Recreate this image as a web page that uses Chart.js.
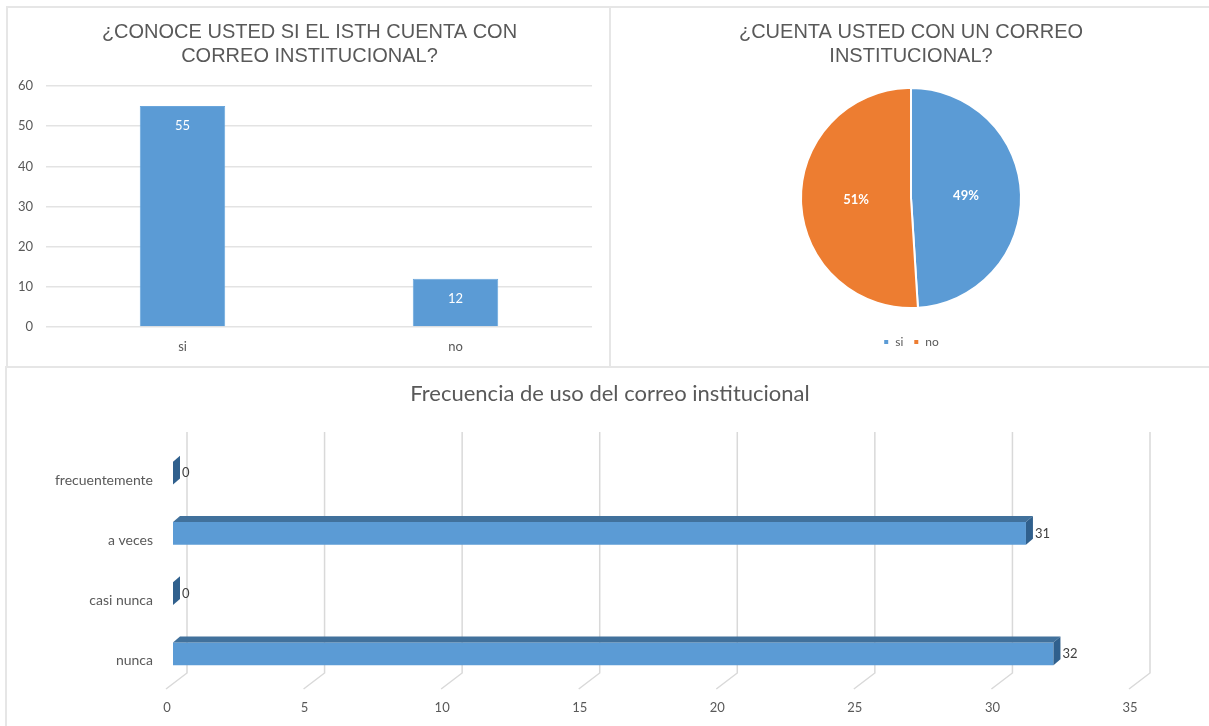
<!DOCTYPE html>
<html>
<head>
<meta charset="utf-8">
<script src="https://cdn.jsdelivr.net/npm/chart.js@4/dist/chart.umd.min.js"></script>
<style>
  body { margin: 0; background: #fff; }
  #page { position: relative; width: 1209px; height: 726px; overflow: hidden; }
  .frame { position: absolute; border: 2px solid #e6e6e6; box-sizing: border-box; }
  canvas { position: absolute; }
</style>
</head>
<body>
<div id="page">
  <div class="frame" style="left:6px;top:6px;width:605px;height:362px;"></div>
  <div class="frame" style="left:609px;top:6px;width:610px;height:362px;"></div>
  <div class="frame" style="left:5px;top:366px;width:1214px;height:370px;"></div>
  <div style="position:absolute;left:8px;top:8px;width:603px;height:358px;"><canvas id="c-conoce"></canvas></div>
  <div style="position:absolute;left:610px;top:8px;width:599px;height:358px;"><canvas id="c-cuenta"></canvas></div>
  <div style="position:absolute;left:0px;top:370px;width:1220px;height:356px;"><canvas id="c-frecuencia"></canvas></div>
</div>
<script>
// ---- data ----
const conoceLabels = ['si', 'no'];
const conoceValues = [55, 12];
const conoceTicks = [0, 10, 20, 30, 40, 50, 60];

const cuentaLabels = ['si', 'no'];
const cuentaValues = [49, 51];

const frecLabels = ['frecuentemente', 'a veces', 'casi nunca', 'nunca'];
const frecValues = [0, 31, 0, 32];
const frecTicks = [0, 5, 10, 15, 20, 25, 30, 35];

const GREY = '#595959';
const BLUE = '#5b9bd5';
const ORANGE = '#ed7d31';
const calibri = "Lato, 'Open Sans', sans-serif";
const arial = "'Liberation Sans', Arial, sans-serif";

Chart.defaults.animation = false;
Chart.defaults.responsive = true;
Chart.defaults.maintainAspectRatio = false;
Chart.defaults.color = GREY;
Chart.defaults.font.family = calibri;

const useTicks = list => scale => { scale.ticks = list.map(v => ({ value: v })); };
// empty axis on the right, only to keep the plot narrower than the title box
const spacerAxis = w => ({
  type: 'linear', position: 'right', display: true,
  grid: { display: false }, border: { display: false }, ticks: { display: false },
  afterFit: s => { s.width = w; }
});

// ---- chart 1: vertical bars ----
const barLabelsInside = {
  id: 'barLabelsInside',
  afterDatasetsDraw(chart) {
    const ctx = chart.ctx;
    const meta = chart.getDatasetMeta(0);
    ctx.save();
    ctx.fillStyle = '#ffffff';
    ctx.font = '13px ' + calibri;
    ctx.textAlign = 'center';
    ctx.textBaseline = 'middle';
    meta.data.forEach((bar, i) => {
      ctx.fillText(String(chart.data.datasets[0].data[i]), bar.x, bar.y + 20);
    });
    ctx.restore();
  }
};

new Chart(document.getElementById('c-conoce'), {
  type: 'bar',
  data: {
    labels: conoceLabels,
    datasets: [{ data: conoceValues, backgroundColor: BLUE, borderColor: '#6aa6dc', borderWidth: 1,
      barPercentage: 0.313, categoryPercentage: 1 }]
  },
  options: {
    plugins: {
      legend: { display: false },
      tooltip: { enabled: false },
      title: {
        display: true,
        text: ['¿CONOCE USTED SI EL ISTH CUENTA CON', 'CORREO INSTITUCIONAL?'],
        color: GREY,
        font: { family: arial, size: 20, weight: 'normal', lineHeight: 1.2 },
        padding: { top: 12, bottom: 18 }
      }
    },
    scales: {
      x: {
        grid: { display: false }, border: { display: false },
        ticks: { font: { size: 13 }, padding: 4 },
        afterFit: s => { s.height = 39; }
      },
      y: {
        min: 0, max: 60,
        afterBuildTicks: useTicks(conoceTicks),
        grid: { color: '#e3e3e3', lineWidth: 1.5, drawTicks: false },
        border: { display: false },
        ticks: { font: { size: 13 }, padding: 13 },
        afterFit: s => { s.width = 38; }
      },
      yRight: spacerAxis(19)
    }
  },
  plugins: [barLabelsInside]
});

// ---- chart 2: pie ----
const pieLabels = {
  id: 'pieLabels',
  afterDatasetsDraw(chart) {
    const ctx = chart.ctx;
    const meta = chart.getDatasetMeta(0);
    ctx.save();
    ctx.fillStyle = '#ffffff';
    ctx.font = 'bold 13px ' + calibri;
    ctx.textAlign = 'center';
    ctx.textBaseline = 'middle';
    meta.data.forEach((arc, i) => {
      const p = arc.tooltipPosition();
      ctx.fillText(chart.data.datasets[0].data[i] + '%', p.x, p.y);
    });
    ctx.restore();
  }
};

new Chart(document.getElementById('c-cuenta'), {
  type: 'pie',
  data: {
    labels: cuentaLabels,
    datasets: [{ data: cuentaValues, backgroundColor: [BLUE, ORANGE], borderColor: '#ffffff', borderWidth: 2, radius: 110 }]
  },
  options: {
    layout: { padding: { left: 3, bottom: 8 } },
    plugins: {
      tooltip: { enabled: false },
      title: {
        display: true,
        text: ['¿CUENTA USTED CON UN CORREO', 'INSTITUCIONAL?'],
        color: GREY,
        font: { family: arial, size: 20, weight: 'normal', lineHeight: 1.2 },
        padding: { top: 12, bottom: 2 }
      },
      legend: {
        position: 'bottom',
        labels: { boxWidth: 6, boxHeight: 6, padding: 10, color: GREY, font: { size: 12 } }
      }
    }
  },
  plugins: [pieLabels]
});

// ---- chart 3: horizontal bars drawn with depth ----
const DX = 7, DY = 6;
const backGrid = {
  id: 'backGrid',
  beforeDatasetsDraw(chart) {
    const { ctx, chartArea } = chart;
    const xs = chart.scales.x;
    ctx.save();
    ctx.strokeStyle = '#d9d9d9';
    ctx.lineWidth = 1.5;
    xs.ticks.forEach(t => {
      const px = xs.getPixelForValue(t.value);
      ctx.beginPath();
      ctx.moveTo(px + 14, chartArea.top - 11);
      ctx.lineTo(px + 14, chartArea.bottom - 11);
      ctx.lineTo(px - 7, chartArea.bottom + 5);
      ctx.stroke();
    });
    ctx.restore();
  }
};

const barDepth = {
  id: 'barDepth',
  afterDatasetsDraw(chart) {
    const ctx = chart.ctx;
    const meta = chart.getDatasetMeta(0);
    ctx.save();
    meta.data.forEach((bar, i) => {
      const { x, y, base, height } = bar.getProps(['x', 'y', 'base', 'height'], true);
      const top = y - height / 2, bot = y + height / 2;
      // top face
      if (x > base) {
        ctx.fillStyle = '#41719c';
        ctx.beginPath();
        ctx.moveTo(base, top);
        ctx.lineTo(base + DX, top - DY);
        ctx.lineTo(x + DX, top - DY);
        ctx.lineTo(x, top);
        ctx.closePath();
        ctx.fill();
      }
      // side face
      ctx.fillStyle = '#30608d';
      ctx.beginPath();
      ctx.moveTo(x, top);
      ctx.lineTo(x + DX, top - DY);
      ctx.lineTo(x + DX, bot - DY);
      ctx.lineTo(x, bot);
      ctx.closePath();
      ctx.fill();
      // value label
      ctx.fillStyle = '#404040';
      ctx.font = '13px ' + calibri;
      ctx.textAlign = 'left';
      ctx.textBaseline = 'middle';
      ctx.fillText(String(chart.data.datasets[0].data[i]), x + DX + 2, y);
    });
    ctx.restore();
  }
};

new Chart(document.getElementById('c-frecuencia'), {
  type: 'bar',
  data: {
    labels: frecLabels,
    datasets: [{ data: frecValues, backgroundColor: BLUE, barPercentage: 0.38, categoryPercentage: 1 }]
  },
  options: {
    indexAxis: 'y',
    plugins: {
      legend: { display: false },
      tooltip: { enabled: false },
      title: {
        display: true,
        text: 'Frecuencia de uso del correo institucional',
        color: GREY,
        font: { size: 22, weight: 'normal', lineHeight: 1.2 },
        padding: { top: 11, bottom: 35.6 }
      }
    },
    scales: {
      x: {
        min: 0, max: 35,
        afterBuildTicks: useTicks(frecTicks),
        grid: { display: false }, border: { display: false },
        ticks: { font: { size: 13 }, padding: 8, labelOffset: -6 },
        afterFit: s => { s.height = 42; }
      },
      y: {
        grid: { display: false }, border: { display: false },
        ticks: { font: { size: 14 }, padding: 12, labelOffset: 7 },
        afterFit: s => { s.width = 173; }
      },
      yRight: spacerAxis(84)
    }
  },
  plugins: [backGrid, barDepth]
});
</script>
</body>
</html>
